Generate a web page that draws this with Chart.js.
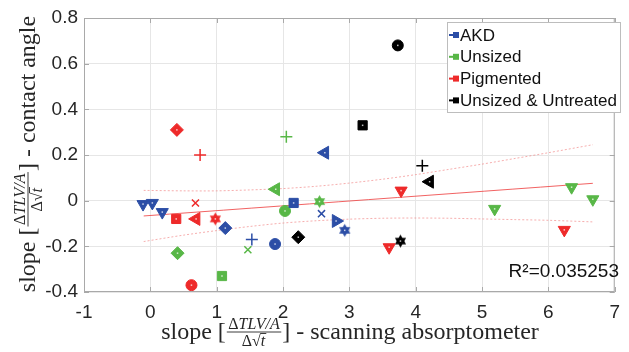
<!DOCTYPE html>
<html>
<head>
<meta charset="utf-8">
<script src="https://cdn.jsdelivr.net/npm/chart.js@4/dist/chart.umd.min.js"></script>
<style>
  body { margin: 0; background: #fff; }
  canvas { display: block; }
</style>
</head>
<body>
<canvas id="slopeChart" width="629" height="352"></canvas>
<script>
// Dữ liệu: x = slope (scanning absorptometer), y = slope (contact angle)
const groupNames = ["AKD", "Unsized", "Pigmented", "Unsized & Untreated"];
const groupColors = ["#2c4ea6", "#58b747", "#ee2a2a", "#000000"];

const akdX = [-0.11, 0.03, 0.18, 1.13, 2.16, 2.58, 2.80, 2.93, 1.53, 1.88, 2.63];
const akdY = [-0.015, -0.01, -0.05, -0.12, -0.01, -0.057, -0.089, -0.13, -0.17, -0.19, 0.21];
const akdMarker = ["v", "v", "v", "d", "s", "x", ">", "h", "+", "o", "<"];

const unsizedX = [0.41, 1.08, 1.89, 2.03, 2.55, 1.47, 2.05, 5.19, 6.35, 6.67];
const unsizedY = [-0.23, -0.33, 0.05, -0.045, -0.004, -0.215, 0.28, -0.036, 0.059, 0.006];
const unsizedMarker = ["d", "s", "<", "o", "h", "x", "+", "v", "v", "v"];

const pigmentedX = [0.39, 0.68, 0.69, 0.98, 0.62, 0.40, 0.75, 3.78, 3.60, 6.24];
const pigmentedY = [-0.08, -0.01, -0.08, -0.08, -0.37, 0.31, 0.20, 0.044, -0.204, -0.128];
const pigmentedMarker = ["s", "x", "<", "h", "o", "d", "+", "v", "v", "v"];

const untreatedX = [3.73, 3.20, 4.10, 4.21, 3.77, 2.23];
const untreatedY = [0.68, 0.33, 0.153, 0.083, -0.177, -0.16];
const untreatedMarker = ["o", "s", "+", "<", "h", "d"];

// Đường hồi quy và dải tin cậy
const fitX = [-0.1, 6.67];
const fitY = [-0.067, 0.076];
const bandX = [-0.1, 0.5, 1, 1.5, 2, 2.5, 3, 3.5, 4, 4.5, 5, 5.5, 6, 6.67];
const bandUpper = [0.045, 0.043, 0.043, 0.047, 0.053, 0.063, 0.077, 0.094, 0.114, 0.137, 0.160, 0.185, 0.210, 0.245];
const bandLower = [-0.179, -0.151, -0.131, -0.113, -0.098, -0.088, -0.081, -0.077, -0.076, -0.077, -0.080, -0.083, -0.086, -0.093];

const xTickValues = [-1, 0, 1, 2, 3, 4, 5, 6, 7];
const yTickValues = [-0.4, -0.2, 0, 0.2, 0.4, 0.6, 0.8];
const rSquaredText = "R\u00b2=0.035253";

const frameColor = "#a9a9a9";
const textColor = "#262626";

// Hình ngôi sao sáu cánh (hexagram) cho mỗi màu
function makeHexagram(color) {
    var c = document.createElement("canvas");
    c.width = 15;
    c.height = 15;
    var g = c.getContext("2d");
    var r = 6.5;
    g.fillStyle = color;
    [0, Math.PI].forEach(function (a0) {
        g.beginPath();
        for (var k = 0; k < 3; k++) {
            var a = a0 + k * 2 * Math.PI / 3;
            var px = 7.5 + Math.sin(a) * r;
            var py = 7.5 - Math.cos(a) * r;
            if (k === 0) g.moveTo(px, py); else g.lineTo(px, py);
        }
        g.closePath();
        g.fill();
    });
    return c;
}

function markerProps(m, color) {
    switch (m) {
        case "v": return { style: "triangle", rot: 180, r: 7, bw: 1 };
        case "<": return { style: "triangle", rot: 270, r: 7.5, bw: 1 };
        case ">": return { style: "triangle", rot: 90, r: 7.5, bw: 1 };
        case "d": return { style: "rectRot", rot: 0, r: 6.5, bw: 1 };
        case "s": return { style: "rect", rot: 0, r: 6.5, bw: 1 };
        case "o": return { style: "circle", rot: 0, r: 5.5, bw: 1 };
        case "x": return { style: "crossRot", rot: 0, r: 5, bw: 1.5 };
        case "+": return { style: "cross", rot: 0, r: 6, bw: 1.5 };
        case "h": return { style: makeHexagram(color), rot: 0, r: 7, bw: 0 };
    }
}

function groupDataset(label, xs, ys, markers, color) {
    var props = markers.map(function (m) { return markerProps(m, color); });
    return {
        label: label,
        data: xs.map(function (x, i) { return { x: x, y: ys[i] }; }),
        markers: markers,
        showLine: false,
        backgroundColor: color,
        borderColor: color,
        pointBackgroundColor: color,
        pointBorderColor: color,
        pointStyle: props.map(function (p) { return p.style; }),
        pointRotation: props.map(function (p) { return p.rot; }),
        pointRadius: props.map(function (p) { return p.r; }),
        pointBorderWidth: props.map(function (p) { return p.bw; }),
        pointHoverRadius: props.map(function (p) { return p.r; }),
    };
}

function lineDataset(xs, ys, color, dash) {
    return {
        type: "line",
        label: "",
        data: xs.map(function (x, i) { return { x: x, y: ys[i] }; }),
        borderColor: color,
        borderWidth: 1,
        borderDash: dash,
        pointRadius: 0,
        fill: false,
        tension: 0.3,
    };
}

// Vẽ tiêu đề trục kiểu LaTeX: slope [ΔTLV/A / Δ√t] - ...
function drawSlopeTitle(ctx, tail) {
    var mainFont = '24px "Liberation Serif"';
    var upFont = '16px "Liberation Serif"';
    var itFont = 'italic 16px "Liberation Serif"';
    ctx.font = mainFont;
    var w1 = ctx.measureText("slope [").width;
    var w3 = ctx.measureText("] - " + tail).width;
    ctx.font = upFont;
    var wDelta = ctx.measureText("\u0394").width;
    var wSqrt = ctx.measureText("\u221a").width;
    ctx.font = itFont;
    var wNum = wDelta + ctx.measureText("TLV/A").width;
    var wT = ctx.measureText("t").width;
    var wDen = wDelta + wSqrt + wT + 1;
    var fw = Math.max(wNum, wDen) + 5;
    var x0 = -(w1 + fw + w3) / 2;

    ctx.textBaseline = "alphabetic";
    ctx.textAlign = "left";
    ctx.fillStyle = textColor;
    ctx.font = mainFont;
    ctx.fillText("slope [", x0, 0);
    ctx.fillText("] - " + tail, x0 + w1 + fw, 0);

    var bar = -7;
    var fx = x0 + w1;
    ctx.strokeStyle = textColor;
    ctx.lineWidth = 0.9;
    ctx.beginPath();
    ctx.moveTo(fx + 1, bar);
    ctx.lineTo(fx + fw - 1, bar);
    ctx.stroke();

    var nx = fx + (fw - wNum) / 2;
    ctx.font = upFont;
    ctx.fillText("\u0394", nx, bar - 3);
    ctx.font = itFont;
    ctx.fillText("TLV/A", nx + wDelta, bar - 3);

    var dx = fx + (fw - wDen) / 2;
    var db = bar + 14;
    ctx.font = upFont;
    ctx.fillText("\u0394", dx, db);
    ctx.fillText("\u221a", dx + wDelta, db);
    ctx.font = itFont;
    ctx.fillText("t", dx + wDelta + wSqrt, db);
    ctx.beginPath();
    ctx.moveTo(dx + wDelta + wSqrt - 0.5, db - 12.5);
    ctx.lineTo(dx + wDelta + wSqrt + wT + 1, db - 12.5);
    ctx.stroke();
}

const decorPlugin = {
    id: "decor",
    afterDatasetsDraw: function (chart) {
        var ctx = chart.ctx;
        ctx.save();
        ctx.fillStyle = "rgba(255,255,255,0.75)";
        chart.data.datasets.forEach(function (ds, di) {
            if (!ds.markers) return;
            chart.getDatasetMeta(di).data.forEach(function (pt, i) {
                var m = ds.markers[i];
                if (m === "x" || m === "+") return;
                ctx.fillRect(pt.x - 0.75, pt.y - 0.75, 1.5, 1.5);
            });
        });
        ctx.restore();
    },
    afterDraw: function (chart) {
        var ctx = chart.ctx;
        var a = chart.chartArea;
        var xs = chart.scales.x;
        var ys = chart.scales.y;
        ctx.save();

        // khung và vạch chia hướng vào trong
        ctx.strokeStyle = frameColor;
        ctx.lineWidth = 1;
        ctx.strokeRect(a.left + 0.5, a.top + 0.5, a.right - a.left - 1, a.bottom - a.top - 1);
        ctx.beginPath();
        xTickValues.forEach(function (v) {
            var px = Math.round(xs.getPixelForValue(v)) + 0.5;
            ctx.moveTo(px, a.bottom);
            ctx.lineTo(px, a.bottom - 5);
            ctx.moveTo(px, a.top);
            ctx.lineTo(px, a.top + 5);
        });
        yTickValues.forEach(function (v) {
            var py = Math.round(ys.getPixelForValue(v)) + 0.5;
            ctx.moveTo(a.left, py);
            ctx.lineTo(a.left + 5, py);
            ctx.moveTo(a.right, py);
            ctx.lineTo(a.right - 5, py);
        });
        ctx.stroke();

        // chú giải
        var lx = 447, ly = 22, lw = 173, lh = 90;
        ctx.fillStyle = "#fff";
        ctx.fillRect(lx, ly, lw, lh);
        ctx.strokeStyle = "#bdbdbd";
        ctx.strokeRect(lx + 0.5, ly + 0.5, lw, lh);
        ctx.font = '17px "Liberation Sans"';
        ctx.textBaseline = "middle";
        ctx.textAlign = "left";
        groupNames.forEach(function (name, i) {
            var cy = 35 + i * 21.8;
            ctx.strokeStyle = groupColors[i];
            ctx.lineWidth = 2;
            ctx.beginPath();
            ctx.moveTo(449, cy);
            ctx.lineTo(456, cy);
            ctx.stroke();
            ctx.fillStyle = groupColors[i];
            ctx.fillRect(453, cy - 3, 6, 6);
            ctx.fillStyle = "#111";
            ctx.fillText(name, 460, cy + 1);
        });

        // R²
        ctx.font = '19px "Liberation Sans"';
        ctx.textAlign = "right";
        ctx.textBaseline = "alphabetic";
        ctx.fillStyle = "#111";
        ctx.fillText(rSquaredText, 619, 277);

        // tiêu đề trục
        ctx.save();
        ctx.translate(350, 339);
        drawSlopeTitle(ctx, "scanning absorptometer");
        ctx.restore();
        ctx.save();
        ctx.translate(35, 154);
        ctx.rotate(-Math.PI / 2);
        drawSlopeTitle(ctx, "contact angle");
        ctx.restore();

        ctx.restore();
    },
};

const ctx = document.getElementById("slopeChart").getContext("2d");
new Chart(ctx, {
    type: "scatter",
    data: {
        datasets: [
            groupDataset(groupNames[0], akdX, akdY, akdMarker, groupColors[0]),
            groupDataset(groupNames[1], unsizedX, unsizedY, unsizedMarker, groupColors[1]),
            groupDataset(groupNames[2], pigmentedX, pigmentedY, pigmentedMarker, groupColors[2]),
            groupDataset(groupNames[3], untreatedX, untreatedY, untreatedMarker, groupColors[3]),
            lineDataset(fitX, fitY, "rgba(238,70,70,0.85)", []),
            lineDataset(bandX, bandUpper, "rgba(240,120,120,0.6)", [2, 2]),
            lineDataset(bandX, bandLower, "rgba(240,120,120,0.6)", [2, 2]),
        ],
    },
    options: {
        responsive: false,
        animation: false,
        devicePixelRatio: 1,
        layout: { padding: { left: 0, right: 5, top: 18, bottom: 0 } },
        plugins: {
            legend: { display: false },
            tooltip: { enabled: false },
        },
        scales: {
            x: {
                type: "linear",
                min: -1,
                max: 7,
                afterBuildTicks: function (s) {
                    s.ticks = xTickValues.map(function (v) { return { value: v }; });
                },
                afterFit: function (s) { s.height = 60; },
                grid: { color: "#e6e6e6", drawTicks: false },
                border: { display: false },
                ticks: {
                    color: textColor,
                    font: { family: "Liberation Sans", size: 19 },
                    padding: 9,
                    maxRotation: 0,
                    callback: function (v) { return String(v); },
                },
            },
            y: {
                type: "linear",
                min: -0.4,
                max: 0.8,
                afterBuildTicks: function (s) {
                    s.ticks = yTickValues.map(function (v) { return { value: v }; });
                },
                afterFit: function (s) { s.width = 84; },
                grid: { color: "#e6e6e6", drawTicks: false },
                border: { display: false },
                ticks: {
                    color: textColor,
                    font: { family: "Liberation Sans", size: 19 },
                    padding: 6,
                    callback: function (v) { return String(v); },
                },
            },
        },
    },
    plugins: [decorPlugin],
});
</script>
</body>
</html>
